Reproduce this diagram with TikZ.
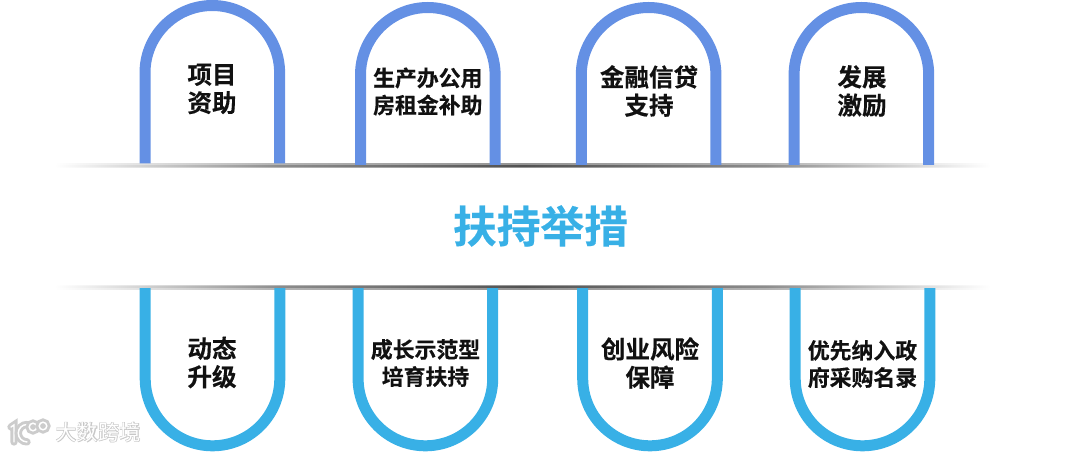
\documentclass[tikz,border=0pt]{standalone}
\usepackage{fontspec}
\usepackage{xcolor}
\usepackage{tikz}
\usetikzlibrary{calc,positioning}
\newfontfamily\cjk{Noto Sans CJK SC}[BoldFont={Noto Sans CJK SC Bold},BoldFeatures={FakeBold=0.35}]
\newfontfamily\cjkfat{Noto Sans CJK SC Bold}[FakeBold=2.2]
\definecolor{Azure}{HTML}{6490E4}
\definecolor{Sky}{HTML}{38B0E6}
\definecolor{Ink}{HTML}{111111}
\pgfdeclarehorizontalshading{rimsoft}{100bp}{color(0bp)=(white); color(25bp)=(white); color(37bp)=(black!30); color(50bp)=(black!42); color(63bp)=(black!30); color(75bp)=(white); color(100bp)=(white)}
\pgfdeclarehorizontalshading{rimcore}{100bp}{color(0bp)=(white); color(25bp)=(white); color(37bp)=(black!45); color(50bp)=(black!68); color(63bp)=(black!45); color(75bp)=(white); color(100bp)=(white)}
\tikzset{
  arch/.style={line width=8.25pt},
  caption/.style={align=center,font=\cjk\bfseries\fontsize{18.4}{21.2}\selectfont,text=Ink,inner sep=0pt},
  captionsm/.style={align=center,font=\cjk\bfseries\fontsize{16.4}{20.4}\selectfont,text=Ink,inner sep=0pt},
  logo/.style={draw=black!20,line width=2.2pt,double=white,double distance=1.1pt,line cap=round},
}
\begin{document}
\begin{tikzpicture}[x=.75pt,y=-.75pt]
\useasboundingbox (0,0) rectangle (1080,452);
% rims of the band
\shade[shading=rimsoft] (55,164) rectangle (990,167.5);
\shade[shading=rimcore] (55,165.2) rectangle (990,166.4);
\shade[shading=rimsoft] (55,285.5) rectangle (990,289);
\shade[shading=rimcore] (55,286.7) rectangle (990,287.9);
% upper row
\foreach \x/\y/\b in {212.3/5.5/163.5,427.8/7.5/165,648.6/7.5/165,861.4/7.5/165}{
  \draw[arch,Azure] (\x-67.3,\b) -- (\x-67.3,\y+67.3) arc[start angle=180,end angle=360,radius=67.3] -- (\x+67.3,\b);
}
% lower row
\foreach \x in {212.5,425.4,650,862.5}{
  \draw[arch,Sky] (\x-67.3,288) -- (\x-67.3,378.5) arc[start angle=180,end angle=0,radius=67.3] -- (\x+67.3,288);
}
\node[caption] (project) at (212,89) {项目\\资助};
\node[captionsm] (rent) at (427.8,91.5) {生产办公用\\房租金补助};
\node[caption] (credit) at (649,91) {金融信贷\\支持};
\node[caption] (reward) at (862,91) {发展\\激励};
\node[caption] (upgrade) at (212,362.5) {动态\\升级};
\node[captionsm] (growth) at (425.5,363) {成长示范型\\培育扶持};
\node[caption] (venture) at (650,363) {创业风险\\保障};
\node[captionsm] (purchase) at (862.5,364) {优先纳入政\\府采购名录};
\node[font=\cjk\bfseries\fontsize{32.8}{38}\selectfont,text=Sky,inner sep=0pt] (title) at (540.5,226) {扶持举措};
% watermark
\draw[logo] (11,427) -- (14,425) -- (14,442);
\draw[logo] (27,424.5) arc[start angle=270,end angle=90,radius=8.7];
\draw[logo] (33,427) circle[radius=3.8];
\draw[logo] (43,426) circle[radius=3.8];
\node[font=\cjkfat\fontsize{16}{18}\selectfont,text=black!22,inner sep=0pt] (markrim) at (98,432) {大数跨境};
\node[font=\cjk\fontsize{16}{18}\selectfont,text=white,inner sep=0pt] (mark) at (98,432) {大数跨境};
\end{tikzpicture}
\end{document}
